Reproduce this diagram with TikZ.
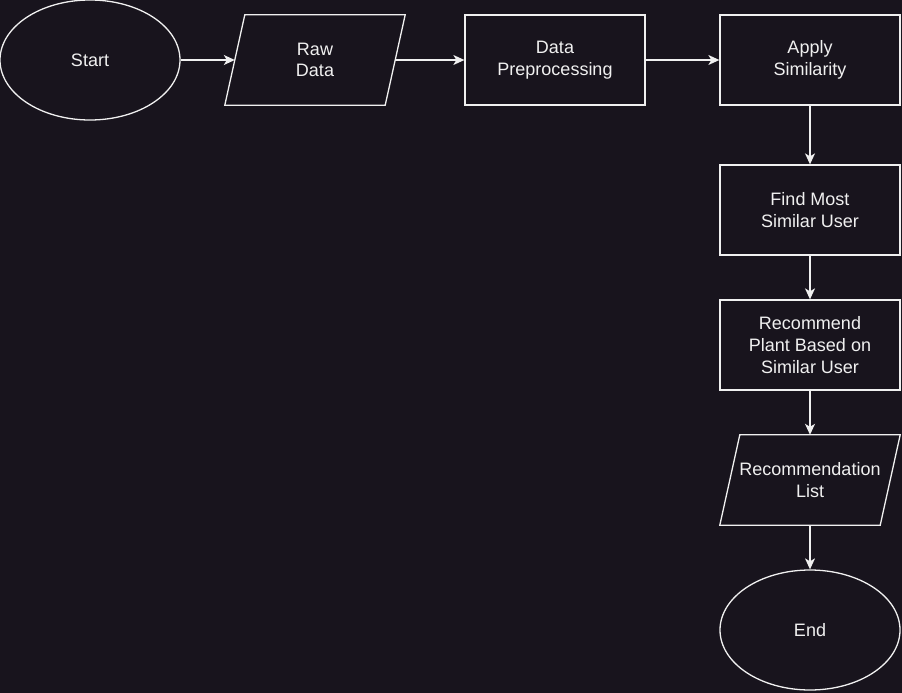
\documentclass[tikz,border=0pt]{standalone}
\usepackage{fontspec}
\setmainfont{Liberation Sans}
\usetikzlibrary{shapes.geometric,arrows.meta,calc}
\definecolor{bgc}{HTML}{18141D}
\definecolor{fg}{HTML}{F0F0F0}
\tikzset{
  x=1pt,y=-1pt,
  every node/.style={text=fg,font=\fontsize{18}{21.6}\selectfont,align=center},
  boxnode/.style={draw=fg,line width=1.3pt,rectangle,minimum width=180pt,minimum height=90pt,inner sep=0pt},
  ionode/.style={rectangle,minimum width=180pt,minimum height=90pt,inner sep=0pt},
  ionline/.style={draw=fg,line width=1.3pt,line join=miter},
  termnode/.style={draw=fg,line width=1.3pt,ellipse,minimum width=180pt,minimum height=120pt,inner sep=0pt},
  conn/.style={draw=fg,line width=1.3pt,-{Stealth[length=11pt,width=10pt,inset=3pt]}}
}
\begin{document}
\begin{tikzpicture}
\fill[bgc] (0,0) rectangle (902,693);
\useasboundingbox (0,0) rectangle (902,693);
\node[termnode] (start) at (90,60) {Start};
\node[ionode] (raw) at (315,60) {Raw\\Data};
\draw[ionline] ($(raw.north west)+(20,0)$) -- (raw.north east) -- ($(raw.south east)+(-20,0)$) -- (raw.south west) -- cycle;
\coordinate (rawin) at ($(raw.west)+(10,0)$);
\coordinate (rawout) at ($(raw.east)+(-10,0)$);
\node[boxnode] (prep) at (555,60) {Data\\Preprocessing};
\node[boxnode] (sim) at (810,60) {Apply\\Similarity};
\node[boxnode] (find) at (810,210) {Find Most\\Similar User};
\node[boxnode] (rec) at (810,345) {Recommend\\Plant Based on\\Similar User};
\node[ionode] (list) at (810,480) {Recommendation\\List};
\draw[ionline] ($(list.north west)+(20,0)$) -- (list.north east) -- ($(list.south east)+(-20,0)$) -- (list.south west) -- cycle;
\node[termnode] (end) at (810,630) {End};
\draw[conn] (start.east) -- (rawin);
\draw[conn] (rawout) -- (prep.west);
\draw[conn] (prep.east) -- (sim.west);
\draw[conn] (sim.south) -- (find.north);
\draw[conn] (find.south) -- (rec.north);
\draw[conn] (rec.south) -- (list.north);
\draw[conn] (list.south) -- (end.north);
\end{tikzpicture}
\end{document}
